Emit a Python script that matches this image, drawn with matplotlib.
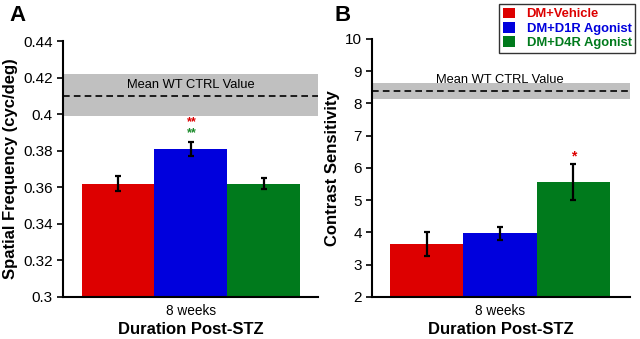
import matplotlib
matplotlib.use("Agg")
import matplotlib.pyplot as plt
from matplotlib.patches import Patch

plt.rcParams['font.family'] = ['Liberation Sans', 'DejaVu Sans']

groups = ["DM+Vehicle", "DM+D1R Agonist", "DM+D4R Agonist"]
colors = ["#dd0000", "#0000dd", "#007a1c"]

sf_mean = [0.362, 0.381, 0.362]
sf_err = [0.004, 0.004, 0.003]
sf_wt = 0.410
sf_wt_band = (0.399, 0.422)

cs_mean = [3.64, 3.97, 5.56]
cs_err = [0.38, 0.19, 0.55]
cs_wt = 8.40
cs_wt_band = (8.15, 8.64)

x = [0, 1, 2]

fig = plt.figure(figsize=(6.4, 3.39), dpi=100)
axA = fig.add_axes([0.098, 0.124, 0.399, 0.755])
axB = fig.add_axes([0.581, 0.124, 0.403, 0.761])


def draw(ax, means, errs, wt, band, ylim, yticks, yticklabels, ylabel, xlim):
    ax.axhspan(band[0], band[1], color="#c0c0c0", zorder=0, lw=0)
    ax.axhline(wt, color="black", ls=(0, (4, 2.5)), lw=1.2, zorder=1)
    ax.bar(x, means, width=1.0, color=colors, zorder=2)
    ax.errorbar(x, means, yerr=errs, fmt="none", ecolor="black",
                elinewidth=1.6, capsize=2.5, capthick=1.6, zorder=3)
    ax.set_xlim(*xlim)
    ax.set_ylim(*ylim)
    ax.set_yticks(yticks)
    ax.set_yticklabels(yticklabels, fontsize=11)
    ax.set_xticks([1])
    ax.set_xticklabels(["8 weeks"], fontsize=9.8)
    ax.tick_params(axis="x", length=0, pad=5)
    ax.tick_params(axis="y", direction="out", length=4, width=1.2, pad=3)
    ax.spines["top"].set_visible(False)
    ax.spines["right"].set_visible(False)
    ax.spines["left"].set_linewidth(1.5)
    ax.spines["bottom"].set_linewidth(1.5)
    ax.set_ylabel(ylabel, fontsize=12, fontweight="bold", labelpad=4)
    ax.set_xlabel("Duration Post-STZ", fontsize=12, fontweight="bold", labelpad=3)


draw(axA, sf_mean, sf_err, sf_wt, sf_wt_band, (0.3, 0.44),
     [0.3, 0.32, 0.34, 0.36, 0.38, 0.4, 0.42, 0.44],
     ["0.3", "0.32", "0.34", "0.36", "0.38", "0.4", "0.42", "0.44"],
     "Spatial Frequency (cyc/deg)", (-0.76, 2.75))
axA.text(1.0, 0.4157, "Mean WT CTRL Value", ha="center", va="center", fontsize=9.3)
axA.text(1.02, 0.3957, "**", color="#dd0000", ha="center", va="center", fontsize=9, fontweight="bold")
axA.text(1.02, 0.3897, "**", color="#1a8a2a", ha="center", va="center", fontsize=9, fontweight="bold")

draw(axB, cs_mean, cs_err, cs_wt, cs_wt_band, (2, 10),
     list(range(2, 11)), [str(v) for v in range(2, 11)],
     "Contrast Sensitivity", (-0.745, 2.77))
axB.text(1.0, 8.73, "Mean WT CTRL Value", ha="center", va="center", fontsize=9.3)
axB.text(2.0, 6.35, "*", color="#dd0000", ha="center", va="center", fontsize=10, fontweight="bold")

fig.text(0.014, 0.955, "A", fontsize=16, fontweight="bold", va="center")
fig.text(0.522, 0.955, "B", fontsize=16, fontweight="bold", va="center")

handles = [Patch(facecolor=c, edgecolor="none") for c in colors]
leg = fig.legend(handles, groups, loc="upper right", bbox_to_anchor=(0.997, 0.997),
                 fontsize=9.4, frameon=True, fancybox=False, edgecolor="black",
                 handlelength=0.9, handleheight=0.9, handletextpad=0.9,
                 labelspacing=0.1, borderpad=0.3, borderaxespad=0.2)
leg.get_frame().set_linewidth(1.0)
for t, c in zip(leg.get_texts(), colors):
    t.set_color(c)
    t.set_fontweight("bold")

fig.savefig("out.png", dpi=100)
